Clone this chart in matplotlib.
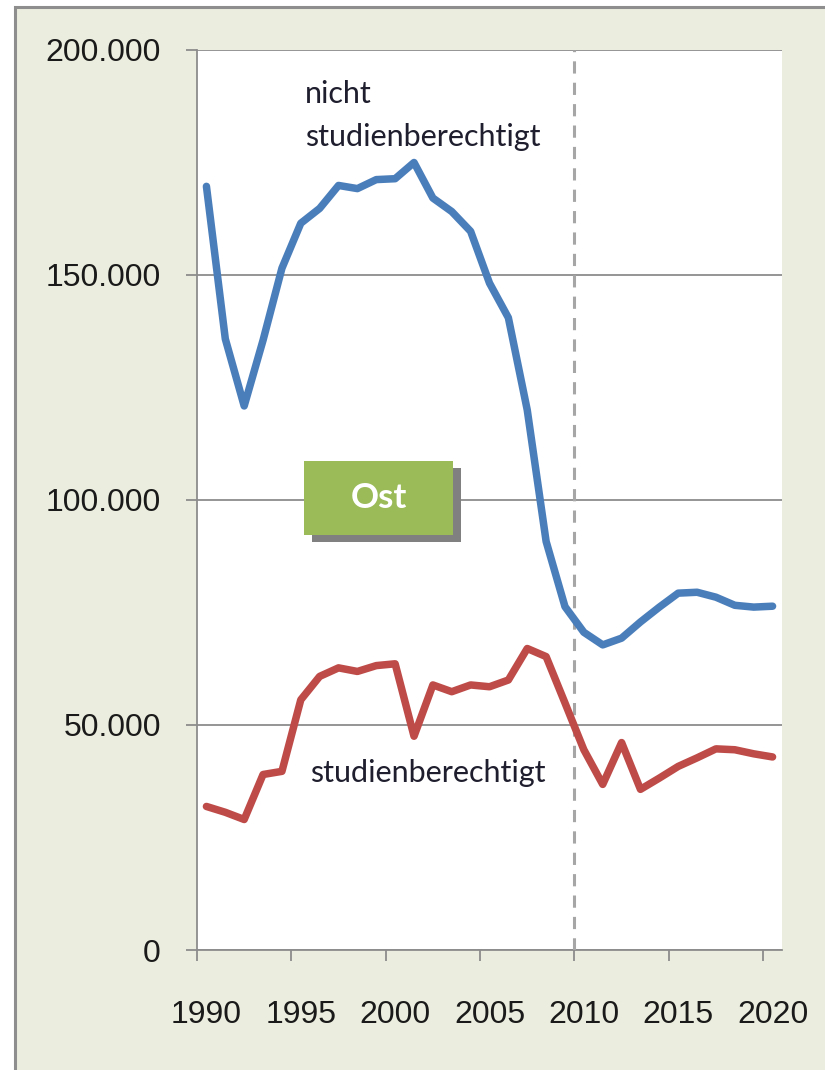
import matplotlib
matplotlib.use("Agg")
import matplotlib.pyplot as plt
from matplotlib.patches import Rectangle
from matplotlib.ticker import FuncFormatter, FixedLocator

# ---- data ----
years = list(range(1990, 2021))
nicht_studienberechtigt = [
    169.7, 135.8, 120.9, 135.5, 151.5, 161.5, 164.8, 169.9, 169.2, 171.2,
    171.4, 175.0, 167.1, 164.1, 159.7, 148.2, 140.5, 120.0, 90.8, 76.3,
    70.6, 67.8, 69.3, 72.9, 76.2, 79.3, 79.5, 78.4, 76.6, 76.2, 76.4]
studienberechtigt = [
    31.9, 30.6, 29.0, 39.0, 39.7, 55.6, 60.8, 62.7, 61.9, 63.2,
    63.6, 47.5, 58.9, 57.4, 58.9, 58.5, 60.0, 67.0, 65.2, 54.9,
    44.5, 36.8, 46.1, 35.7, 38.2, 40.8, 42.7, 44.7, 44.5, 43.6, 42.9]
nicht_studienberechtigt = [v * 1000 for v in nicht_studienberechtigt]
studienberechtigt = [v * 1000 for v in studienberechtigt]
x_labels = [1990, 1995, 2000, 2005, 2010, 2015, 2020]
y_ticks = [0, 50000, 100000, 150000, 200000]
marker_year = 2009.5

W, H = 825, 1070
fig = plt.figure(figsize=(W / 100, H / 100), dpi=100)
fig.patch.set_facecolor("white")

bg = Rectangle((15 / W, -0.05), 1.2, (H - 7) / H + 0.05, transform=fig.transFigure,
               facecolor="#EBEEDE", edgecolor="#8E8E8E", linewidth=2.2, zorder=-10)
fig.patches.append(bg)

left, right, top, bottom = 197, 782, 50, 950
ax = fig.add_axes([left / W, 1 - bottom / H, (right - left) / W, (bottom - top) / H])
ax.set_zorder(1)
ax.set_facecolor("white")

ax.plot(years, nicht_studienberechtigt, color="#4A7EBB", lw=5.4,
        solid_joinstyle="round", solid_capstyle="round", zorder=4)
ax.plot(years, studienberechtigt, color="#BE4B48", lw=5.4,
        solid_joinstyle="round", solid_capstyle="round", zorder=4)

ax.set_xlim(1989.5, 2020.5)
ax.set_ylim(0, 200000)

ax.axvline(marker_year, color="#A6A6A6", lw=2.2, ls=(0, (4, 3)), zorder=3)

ax.set_yticks(y_ticks)
ax.yaxis.set_major_formatter(FuncFormatter(lambda v, p: f"{int(v):,}".replace(",", ".")))
ax.grid(axis="y", color="#8C8C8C", lw=1.3)
ax.set_axisbelow(True)

ax.set_xticks(x_labels)
ax.set_xticklabels([str(v) for v in x_labels])
ax.xaxis.set_minor_locator(FixedLocator([1989.5 + 5 * k for k in range(7)]))
ax.tick_params(axis="x", which="major", length=0, pad=36, labelsize=23, labelcolor="#1A1A1A")
ax.tick_params(axis="x", which="minor", length=8, width=1.3, color="#8C8C8C", direction="out")
ax.tick_params(axis="y", which="major", length=8, width=1.3, color="#8C8C8C",
               direction="out", pad=18, labelsize=23, labelcolor="#1A1A1A")
for lab in ax.get_xticklabels() + ax.get_yticklabels():
    lab.set_family(["Liberation Sans", "DejaVu Sans"])

for s in ["top", "right"]:
    ax.spines[s].set_visible(False)
for s in ["left", "bottom"]:
    ax.spines[s].set_color("#8C8C8C")
    ax.spines[s].set_linewidth(1.3)

def axf(px, py):
    return ((px - left) / (right - left), (bottom - py) / (bottom - top))

tfont = dict(family=["Lato", "DejaVu Sans"], fontsize=22, color="#1E1E2E")
ax.text(*axf(305, 103), "nicht", transform=ax.transAxes, ha="left", va="baseline", **tfont)
ax.text(*axf(305, 146), "studienberechtigt", transform=ax.transAxes, ha="left", va="baseline", **tfont)
ax.text(*axf(310, 782), "studienberechtigt", transform=ax.transAxes, ha="left", va="baseline", **tfont)

# "Ost" box with shadow
x0, y0 = axf(304, 535)
x1, y1 = axf(453, 461)
sx, sy = 8 / (right - left), -7 / (bottom - top)
ax.add_patch(Rectangle((x0 + sx, y0 + sy), x1 - x0, y1 - y0, transform=ax.transAxes,
                       facecolor="#808080", edgecolor="none", zorder=5))
ax.add_patch(Rectangle((x0, y0), x1 - x0, y1 - y0, transform=ax.transAxes,
                       facecolor="#9BBB59", edgecolor="none", zorder=6))
ax.text((x0 + x1) / 2, (y0 + y1) / 2, "Ost", transform=ax.transAxes, ha="center", va="center",
        color="white", fontsize=25, fontweight="bold", family=["Lato", "DejaVu Sans"], zorder=7)

fig.savefig("out.png", dpi=100, facecolor=fig.get_facecolor())
